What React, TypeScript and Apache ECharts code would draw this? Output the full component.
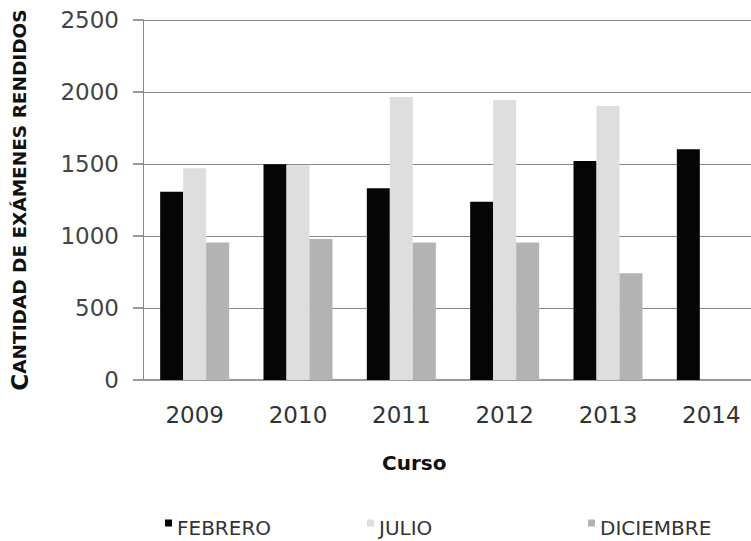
import React, { useEffect, useRef } from 'react';
import * as echarts from 'echarts';

const categories = ['2009', '2010', '2011', '2012', '2013', '2014'];
const febrero = [1308, 1498, 1331, 1238, 1521, 1602];
const julio = [1470, 1492, 1965, 1944, 1903, null];
const diciembre = [954, 979, 954, 954, 741, null];
const seriesNames = ['FEBRERO', 'JULIO', 'DICIEMBRE'];
const seriesColors = ['#050505', '#dedede', '#b3b3b3'];

export default function App() {
  const ref = useRef<HTMLDivElement>(null);
  useEffect(() => {
    if (!ref.current) return;
    const chart = echarts.init(ref.current, null, { renderer: 'svg' });
    const legendLefts = [160, 362, 583];
    const labelFont = 'DejaVu Sans';
    chart.setOption({
      animation: false,
      backgroundColor: '#ffffff',
      grid: { left: 143, right: 17, top: 20, bottom: 161, containLabel: false },
      legend: seriesNames.map((n, i) => ({
        data: [n],
        left: legendLefts[i],
        top: 513,
        icon: 'path://M0,0L7,0L7,7L0,7Z M0,17L0.01,17L0,17Z',
        itemWidth: 7,
        itemHeight: 17,
        itemGap: 0,
        textStyle: { fontFamily: labelFont, fontSize: 20, color: '#333' },
      })),
      xAxis: {
        type: 'category',
        data: categories,
        axisLine: { lineStyle: { color: '#999', width: 2 } },
        axisTick: { show: false },
        axisLabel: { fontFamily: labelFont, fontSize: 23, color: '#333', margin: 23 },
      },
      yAxis: {
        type: 'value',
        min: 0,
        max: 2500,
        interval: 500,
        name: '{big|C}{small|ANTIDAD DE EXÁMENES RENDIDOS}',
        nameLocation: 'middle',
        nameGap: 112,
        nameRotate: 90,
        nameTextStyle: {
          rich: {
            big: { fontFamily: labelFont, fontWeight: 'bold', fontSize: 23, color: '#111' },
            small: { fontFamily: labelFont, fontWeight: 'bold', fontSize: 18.5, color: '#111' },
          },
        },
        axisLine: { show: true, lineStyle: { color: '#888', width: 1 } },
        axisTick: { show: true, inside: false, length: 10, lineStyle: { color: '#777', width: 1.5 } },
        splitLine: { show: true, lineStyle: { color: '#888', width: 1 } },
        axisLabel: {
          fontFamily: labelFont,
          fontSize: 23,
          color: '#444',
          margin: 24,
          formatter: (v: number) => String(v),
        },
      },
      graphic: [
        {
          type: 'text',
          left: 382,
          top: 453,
          style: { text: 'Curso', fontFamily: labelFont, fontWeight: 'bold', fontSize: 20, fill: '#111' },
        },
      ],
      series: [febrero, julio, diciembre].map((d, i) => ({
        name: seriesNames[i],
        type: 'bar',
        data: d,
        barWidth: 23,
        barGap: '0%',
        itemStyle: { color: seriesColors[i] },
      })),
    });
    return () => chart.dispose();
  }, []);
  return (
    <div style={{ position: 'fixed', left: 0, top: 0, width: 751, height: 541, overflow: 'hidden' }}>
      <div ref={ref} style={{ width: 780, height: 541 }} />
    </div>
  );
}
